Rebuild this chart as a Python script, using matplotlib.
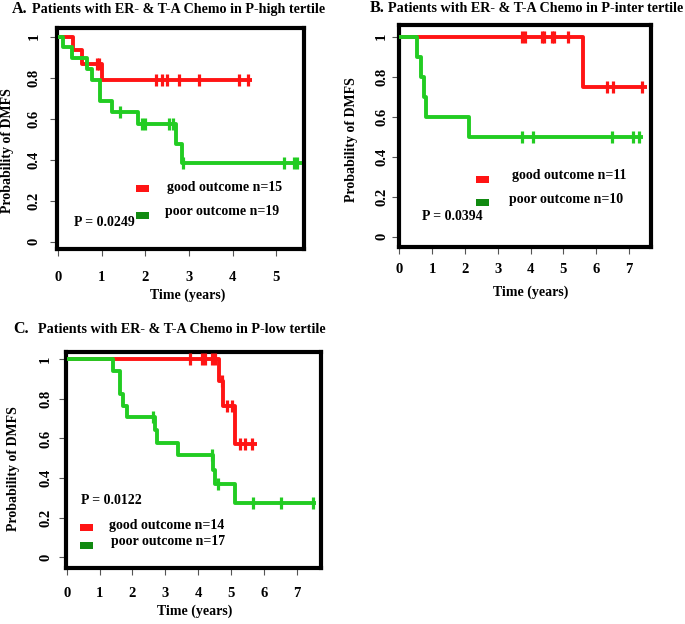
import numpy as np
import matplotlib
matplotlib.use("Agg")
import matplotlib.pyplot as plt
from matplotlib.patches import Rectangle

# ---------------- data ----------------
# Panel A (P-high tertile)
A_good_t = [0, 0.34, 0.54, 1.00]
A_good_s = [1.0, 0.933, 0.867, 0.788]
A_good_cens = [0.88, 0.94, 2.24, 2.39, 2.50, 2.78, 3.23, 4.14, 4.35]
A_good_end = 4.44
A_poor_t = [0, 0.11, 0.31, 0.67, 0.77, 0.96, 1.23, 1.82, 2.70, 2.85]
A_poor_s = [1.0, 0.947, 0.895, 0.842, 0.789, 0.684, 0.632, 0.574, 0.478, 0.383]
A_poor_cens = [1.42, 1.92, 2.00, 2.53, 2.64, 2.87, 5.18, 5.41, 5.47]
A_poor_end = 5.59

# Panel B (P-inter tertile)
B_good_t = [0, 5.61]
B_good_s = [1.0, 0.75]
B_good_cens = [3.74, 3.84, 4.34, 4.42, 4.65, 4.70, 5.15, 6.32, 6.51, 7.39]
B_good_end = 7.54
B_poor_t = [0, 0.55, 0.65, 0.75, 0.81, 2.13]
B_poor_s = [1.0, 0.9, 0.8, 0.7, 0.6, 0.5]
B_poor_cens = [3.75, 4.07, 6.48, 7.13, 7.31]
B_poor_end = 7.44

# Panel C (P-low tertile)
C_good_t = [0, 4.64, 4.76, 5.12]
C_good_s = [1.0, 0.889, 0.762, 0.571]
C_good_cens = [3.75, 4.10, 4.22, 4.41, 4.51, 4.71, 4.86, 5.02, 5.27, 5.42, 5.62]
C_good_end = 5.78
C_poor_t = [0, 1.42, 1.62, 1.72, 1.82, 2.68, 2.75, 3.39, 4.45, 4.52, 5.12]
C_poor_s = [1.0, 0.941, 0.824, 0.765, 0.706, 0.642, 0.578, 0.514, 0.441, 0.368, 0.276]
C_poor_cens = [2.63, 4.41, 4.59, 5.67, 6.53, 7.48]
C_poor_end = 7.58

titles = ["Patients with ER- & T-A Chemo in P-high tertile",
          "Patients with ER- & T-A Chemo in P-inter tertile",
          "Patients with ER- & T-A Chemo in P-low tertile"]
letters = ["A.", "B.", "C."]
good_labels = ["good outcome n=15", "good outcome n=11", "good outcome n=14"]
poor_labels = ["poor outcome n=19", "poor outcome n=10", "poor outcome n=17"]
pvalues = ["P = 0.0249", "P = 0.0394", "P = 0.0122"]
y_ticks = [0, 0.2, 0.4, 0.6, 0.8, 1.0]
y_ticklabels = ["0", "0.2", "0.4", "0.6", "0.8", "1"]

RED = "#ff1414"
GREEN = "#22cc22"
DKGREEN = "#118a11"
FONT = "Liberation Serif"

W, H = 685, 624
fig = plt.figure(figsize=(W / 100, H / 100), dpi=100)


def fx(x):
    return x / W


def fy(y):
    return 1 - y / H


def km(ax, t, s, cens, end, color):
    t = np.asarray(t, float)
    s = np.asarray(s, float)
    xs = np.r_[t, end]
    ys = np.r_[s, s[-1]]
    ax.step(xs, ys, where="post", color=color, lw=2.8, solid_capstyle="butt", zorder=3)
    c = np.asarray(cens, float)
    idx = np.searchsorted(t, c, side="right") - 1
    ax.plot(c, s[idx], ls="none", marker="|", ms=9, mew=2.3, color=color, zorder=3)


panels = [
    dict(box=(57, 28, 304, 248.7), xlim=(-0.03, 5.64), ylim=(-0.034, 1.042), xmax=5,
         curves=[(A_good_t, A_good_s, A_good_cens, A_good_end, RED),
                 (A_poor_t, A_poor_s, A_poor_cens, A_poor_end, GREEN)],
         xpad=11, ypad=7),
    dict(box=(399.3, 25.3, 651.3, 246.7), xlim=(0.0, 7.68), ylim=(-0.05, 1.057), xmax=7,
         curves=[(B_good_t, B_good_s, B_good_cens, B_good_end, RED),
                 (B_poor_t, B_poor_s, B_poor_cens, B_poor_end, GREEN)],
         xpad=7, ypad=3),
    dict(box=(66, 351.7, 321.3, 568), xlim=(-0.02, 7.74), ylim=(-0.054, 1.038), xmax=7,
         curves=[(C_good_t, C_good_s, C_good_cens, C_good_end, RED),
                 (C_poor_t, C_poor_s, C_poor_cens, C_poor_end, GREEN)],
         xpad=9, ypad=5),
]

for p in panels:
    l, t, r, b = p["box"]
    ax = fig.add_axes([fx(l), fy(b), (r - l) / W, (b - t) / H])
    for c in p["curves"]:
        km(ax, *c)
    ax.set_xlim(*p["xlim"])
    ax.set_ylim(*p["ylim"])
    for sp in ax.spines.values():
        sp.set_linewidth(3.0)
        sp.set_color("black")
    ax.set_xticks(range(0, p["xmax"] + 1))
    ax.set_xticklabels([str(i) for i in range(0, p["xmax"] + 1)],
                       fontfamily=FONT, fontweight="bold", fontsize=10.5)
    ax.set_yticks(y_ticks)
    ax.set_yticklabels(y_ticklabels, fontfamily=FONT, fontweight="bold", fontsize=10.5,
                       rotation=90, va="center")
    ax.tick_params(axis="both", direction="out", length=5, width=0.8, color="#555555")
    ax.tick_params(axis="x", pad=p["xpad"])
    ax.tick_params(axis="y", pad=p["ypad"])

# titles
title_pos = [(12, 9), (370, 8), (13, 329)]
title_rest_x = [32, 388, 38]
for (x, y), rx, let, ttl in zip(title_pos, title_rest_x, letters, titles):
    fig.text(fx(x), fy(y), let, fontfamily=FONT, fontweight="bold", fontsize=11.5,
             ha="left", va="center")
    fig.text(fx(rx), fy(y + 0.5), ttl, fontfamily=FONT, fontweight="bold", fontsize=10.2,
             ha="left", va="center")

# axis labels
xl_pos = [(187.5, 295), (531, 292), (195, 611.7)]
yl_pos = [(8, 150.5), (351, 140), (14, 469)]
for (x, y) in xl_pos:
    fig.text(fx(x), fy(y), "Time (years)", fontfamily=FONT, fontweight="bold", fontsize=10,
             ha="center", va="center")
for (x, y) in yl_pos:
    fig.text(fx(x), fy(y), "Probability of DMFS", fontfamily=FONT, fontweight="bold",
             fontsize=10, ha="center", va="center", rotation=90)

# legends: (box x, red box y, green box y, good text x, good y, poor text x, poor y, P x, P y)
legends = [
    (136, 185, 212, 167, 187, 165, 212, 74, 222),
    (476, 176, 198.5, 512, 176, 509, 200, 422, 217),
    (80, 523.5, 542, 109, 525, 111, 542, 81, 501),
]
for (bx, ry, gy, gx, gty, px_, pty, ppx, ppy), gl, pl, pv in zip(legends, good_labels,
                                                                  poor_labels, pvalues):
    fig.add_artist(Rectangle((fx(bx), fy(ry + 7)), 13 / W, 7 / H, transform=fig.transFigure,
                             color=RED, lw=0))
    fig.add_artist(Rectangle((fx(bx), fy(gy + 7)), 13 / W, 7 / H, transform=fig.transFigure,
                             color=DKGREEN, lw=0))
    fig.text(fx(gx), fy(gty), gl, fontfamily=FONT, fontweight="bold", fontsize=10,
             ha="left", va="center")
    fig.text(fx(px_), fy(pty), pl, fontfamily=FONT, fontweight="bold", fontsize=10,
             ha="left", va="center")
    fig.text(fx(ppx), fy(ppy), pv, fontfamily=FONT, fontweight="bold", fontsize=10,
             ha="left", va="center")

fig.savefig("out.png", dpi=100)
